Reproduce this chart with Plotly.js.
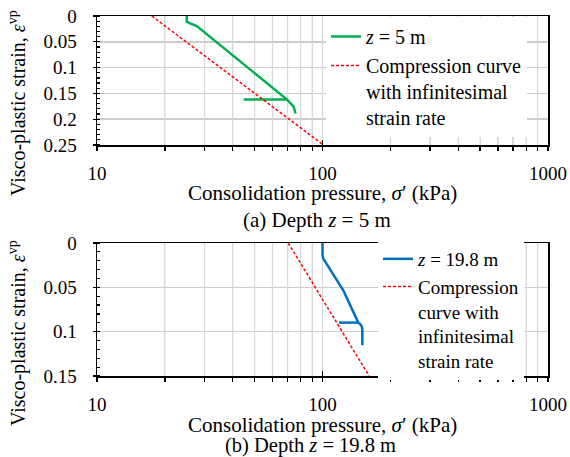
<!DOCTYPE html>
<html>
<head>
<meta charset="utf-8">
<script src="https://cdn.plot.ly/plotly-3.0.1.min.js"></script>
<style>html,body{margin:0;padding:0;background:#fff;}#chart{width:570px;height:457px;}</style>
</head>
<body>
<div id="chart"></div>
<script>
// Panel (a) depth z = 5 m
const pressureA = [25.0, 25.0, 25.9, 27.7, 69.7, 72.1, 74.6, 75.9, null, 44.7, 69.7];
const strainA   = [0, 0.011, 0.0142, 0.0195, 0.162, 0.170, 0.176, 0.189, null, 0.162, 0.162];
const refPressureA = [17.5, 101];
const refStrainA   = [0, 0.25];
// Panel (b) depth z = 19.8 m
const pressureB = [100, 100, 100.8, 108, 124, 144.1, 147, 149.6, 150.2, 150.2, null, 118.4, 144.1];
const strainB   = [0, 0.0139, 0.0176, 0.030, 0.054, 0.0898, 0.0915, 0.0947, 0.098, 0.1154, null, 0.0898, 0.0898];
const refPressureB = [70.5, 161];
const refStrainB   = [0, 0.15];
// Ticks
const xMajorVals = [10, 100, 1000];
const xMajorText = ['10', '100', '1000'];
const xGridVals = [10, 20, 30, 40, 50, 60, 70, 80, 90, 100, 200, 300, 400, 500, 600, 700, 800, 900, 1000];
const labelA = '<i>z</i> = 5 m';
const labelB = '<i>z</i> = 19.8 m';
const refLabelA = 'Compression curve<br>with infinitesimal<br>strain rate';
const refLabelB = 'Compression<br>curve with<br>infinitesimal<br>strain rate';

const FONT = 'Liberation Serif';
const W = 570, H = 457;
const px = v => v / W, py = v => 1 - v / H;

const traces = [
  {x: pressureA, y: strainA, xaxis: 'x', yaxis: 'y', mode: 'lines', name: labelA,
   line: {color: '#00b050', width: 2.5}, legend: 'legend', connectgaps: false},
  {x: refPressureA, y: refStrainA, xaxis: 'x', yaxis: 'y', mode: 'lines', name: refLabelA,
   line: {color: '#ff0000', width: 1.5, dash: '3px,2px'}, legend: 'legend'},
  {x: pressureB, y: strainB, xaxis: 'x2', yaxis: 'y2', mode: 'lines', name: labelB,
   line: {color: '#0070c0', width: 2.5}, legend: 'legend2', connectgaps: false},
  {x: refPressureB, y: refStrainB, xaxis: 'x2', yaxis: 'y2', mode: 'lines', name: refLabelB,
   line: {color: '#ff0000', width: 1.5, dash: '3px,2px'}, legend: 'legend2'},
  // empty carriers for the tick overlay axes
  {x: [], y: [], xaxis: 'x3', yaxis: 'y', mode: 'lines', showlegend: false, hoverinfo: 'skip'},
  {x: [], y: [], xaxis: 'x4', yaxis: 'y2', mode: 'lines', showlegend: false, hoverinfo: 'skip'}
];

const DOMX = [px(97), px(548)];
function xax(anchor) {
  return {
    type: 'log', range: [1, 3], domain: DOMX, anchor: anchor,
    tickmode: 'array', tickvals: xMajorVals.slice(), ticktext: xMajorText.slice(), tickangle: 0,
    ticks: 'inside', ticklen: 5, tickwidth: 1.3, tickcolor: '#000',
    showline: true, linecolor: '#000', linewidth: 1.5, mirror: true,
    showgrid: false,
    ticklabelstandoff: 11,
    tickfont: {family: FONT, size: 19, color: '#000'},
    zeroline: false
  };
}
function xgrid(anchor, over) {
  return {
    type: 'log', range: [1, 3], domain: DOMX, anchor: anchor, overlaying: over,
    tickmode: 'array', tickvals: xGridVals.slice(), showticklabels: false,
    ticks: 'outside', ticklen: 5, tickwidth: 1.3, tickcolor: '#000',
    showline: false, showgrid: true, gridcolor: '#d9d9d9', gridwidth: 1.2,
    zeroline: false, side: 'bottom'
  };
}
function yax(anchor, maxv, dom) {
  return {
    range: [maxv, 0], domain: dom, anchor: anchor,
    tickmode: 'linear', tick0: 0, dtick: 0.05,
    ticks: 'outside', ticklen: 3, tickwidth: 1.3, tickcolor: '#000',
    showline: true, linecolor: '#000', linewidth: 1.5, mirror: true,
    showgrid: true, gridcolor: '#cccccc', gridwidth: 1.5,
    minor: {dtick: 0.01, tick0: 0, ticks: 'inside', ticklen: 3, tickwidth: 1.2, tickcolor: '#000', showgrid: false},
    ticklabelstandoff: 12,
    tickfont: {family: FONT, size: 19, color: '#000'},
    zeroline: false
  };
}

// vertical grid lines placed through each panel's own log axis (drawn below the traces)
const gridShapes = [];
[['x', 'y domain'], ['x2', 'y2 domain']].forEach(([xr, yr]) => {
  xGridVals.slice(1, -1).forEach(v => gridShapes.push({
    type: 'line', xref: xr, yref: yr, x0: v, x1: v, y0: 0, y1: 1,
    layer: 'below', line: {color: '#d9d9d9', width: 1.2}
  }));
});

const layout = {
  width: W, height: H,
  margin: {l: 0, r: 0, t: 0, b: 0},
  paper_bgcolor: '#fff', plot_bgcolor: '#fff',
  font: {family: FONT, size: 19, color: '#000'},
  xaxis: xax('y'),
  xaxis3: xgrid('y', 'x'),
  yaxis: yax('x', 0.25, [py(145), py(16)]),
  xaxis2: xax('y2'),
  xaxis4: xgrid('y2', 'x2'),
  yaxis2: yax('x2', 0.15, [py(376), py(243)]),
  shapes: gridShapes,
  showlegend: true,
  legend: {x: px(326), y: py(17), xanchor: 'left', yanchor: 'top', bgcolor: '#fff',
           borderwidth: 0, font: {family: FONT, size: 20}, valign: 'top', tracegroupgap: 0},
  legend2: {x: px(378), y: py(240), xanchor: 'left', yanchor: 'top', bgcolor: '#fff',
            borderwidth: 0, font: {family: FONT, size: 19}, valign: 'top', tracegroupgap: 0},
  annotations: [
    {text: 'Visco-plastic strain, <i>ε</i><sup>vp</sup>', xref: 'paper', yref: 'paper',
     x: px(17), y: py(103), textangle: -90, showarrow: false, xanchor: 'center', yanchor: 'middle',
     font: {family: FONT, size: 20}},
    {text: 'Visco-plastic strain, <i>ε</i><sup>vp</sup>', xref: 'paper', yref: 'paper',
     x: px(17), y: py(333), textangle: -90, showarrow: false, xanchor: 'center', yanchor: 'middle',
     font: {family: FONT, size: 20}},
    {text: 'Consolidation pressure, <i>σ</i>′ (kPa)', xref: 'paper', yref: 'paper',
     x: px(322.5), y: py(193), showarrow: false, xanchor: 'center', yanchor: 'middle',
     font: {family: FONT, size: 21}},
    {text: '(a) Depth <i>z</i> = 5 m', xref: 'paper', yref: 'paper',
     x: px(316.7), y: py(220), showarrow: false, xanchor: 'center', yanchor: 'middle',
     font: {family: FONT, size: 21}},
    {text: 'Consolidation pressure, <i>σ</i>′ (kPa)', xref: 'paper', yref: 'paper',
     x: px(322.5), y: py(425), showarrow: false, xanchor: 'center', yanchor: 'middle',
     font: {family: FONT, size: 21}},
    {text: '(b) Depth <i>z</i> = 19.8 m', xref: 'paper', yref: 'paper',
     x: px(310.8), y: py(445.5), showarrow: false, xanchor: 'center', yanchor: 'middle',
     font: {family: FONT, size: 20.5}}
  ]
};

Plotly.newPlot('chart', traces, layout, {displayModeBar: false, staticPlot: true});
</script>
</body>
</html>
